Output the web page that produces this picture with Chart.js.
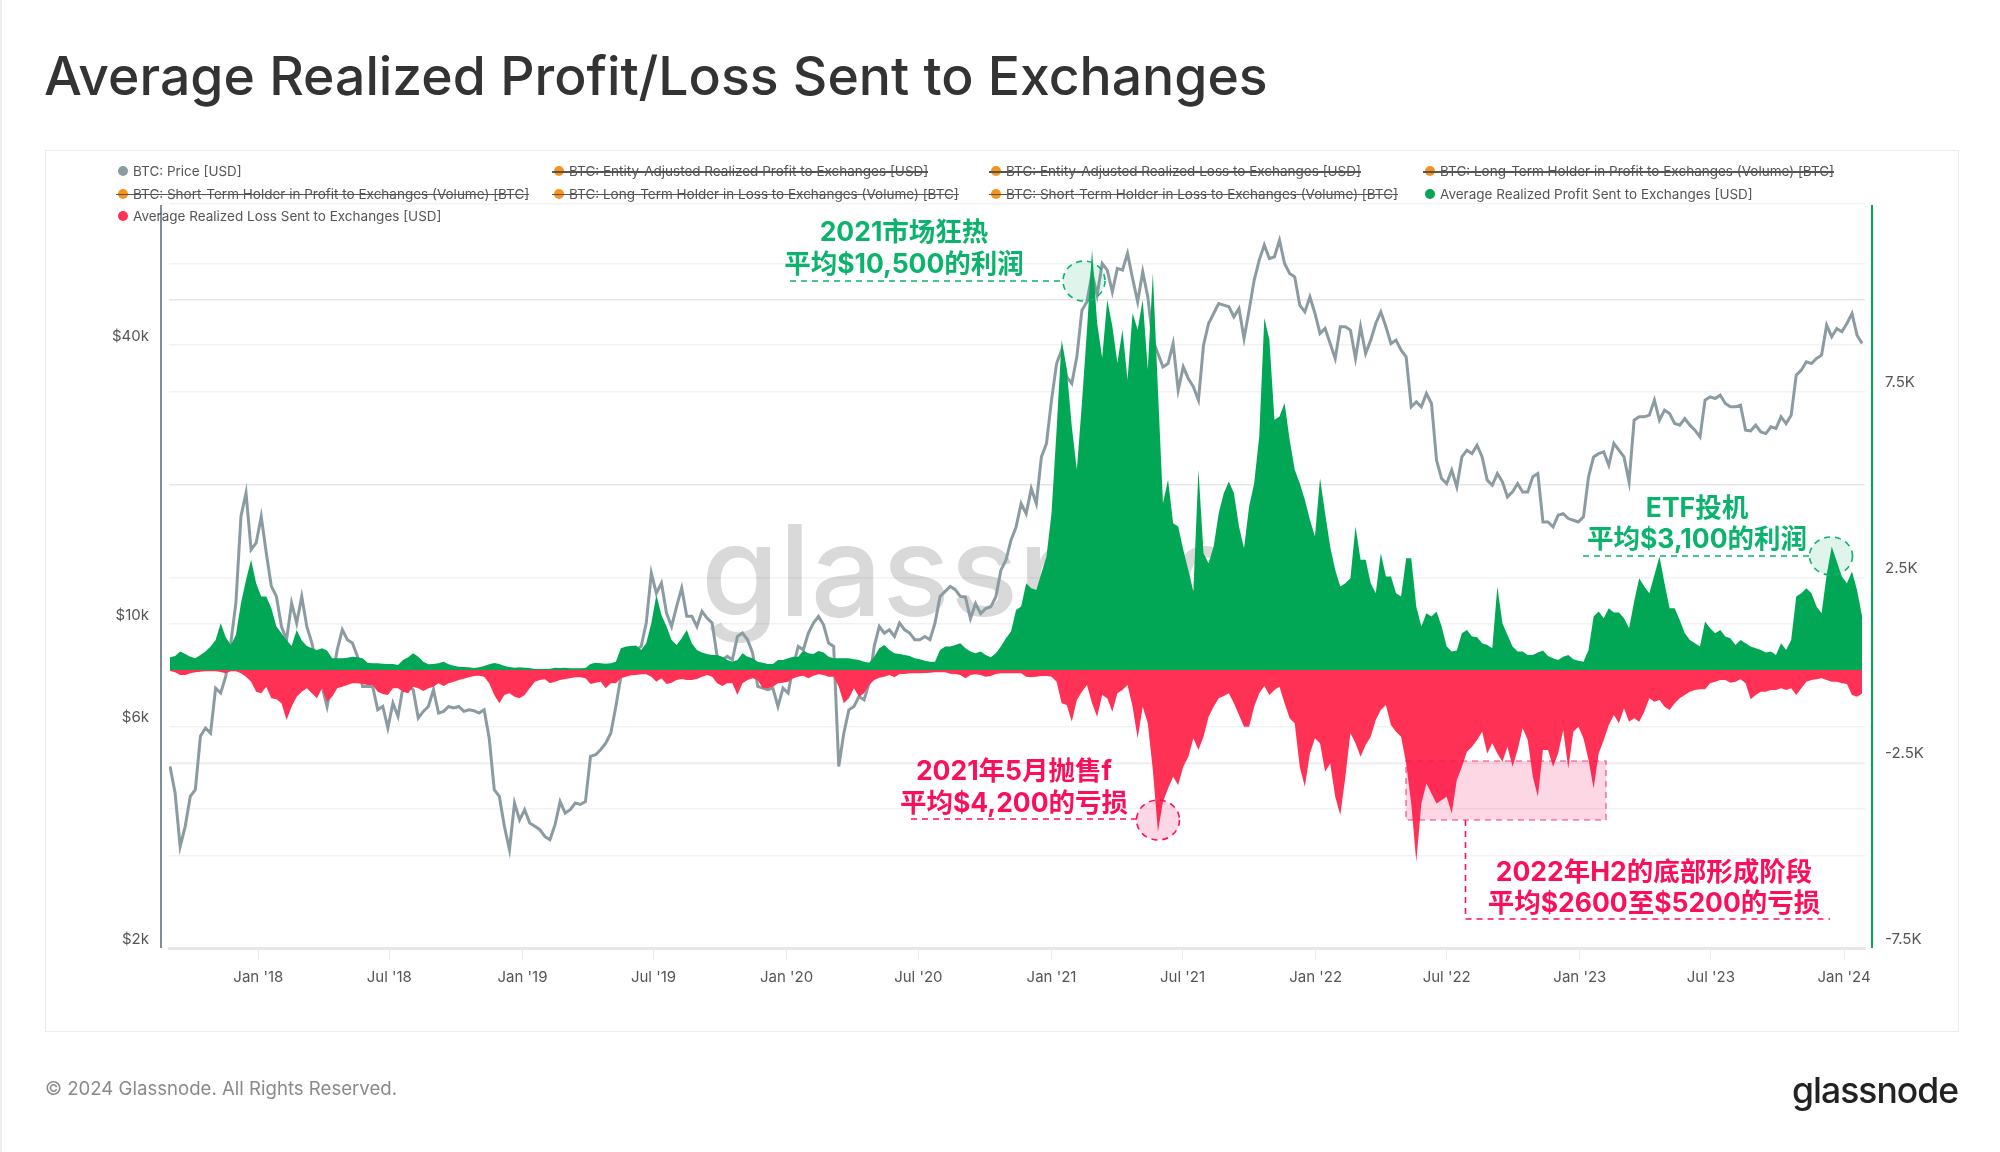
<!DOCTYPE html>
<html>
<head>
<meta charset="utf-8">
<title>Average Realized Profit/Loss Sent to Exchanges</title>
<script src="https://cdn.jsdelivr.net/npm/chart.js@4"></script>
<style>
  html, body { margin: 0; padding: 0; background: #fff; }
  body { width: 2000px; height: 1152px; position: relative; overflow: hidden; font-family: Inter, "Noto Sans CJK SC", sans-serif; }
  .edge { position: absolute; left: 0; top: 0; width: 2px; height: 1152px; background: #efefef; }
  .card { position: absolute; left: 45px; top: 150px; width: 1912px; height: 880px; border: 1.5px solid #ececec; }
  h1 { position: absolute; left: 44px; top: 43px; margin: 0; font-size: 53.5px; line-height: 66px; font-weight: 500; color: #333; white-space: nowrap; }
  #watermark { position: absolute; left: 701px; top: 495px; font-size: 126px; line-height: 150px; font-weight: 500; color: #d9d9d9; white-space: nowrap; }
  #chart { position: absolute; left: 0; top: 0; }
  #marks { position: absolute; left: 0; top: 0; pointer-events: none; }
  .legend-item { position: absolute; height: 22px; line-height: 22px; font-size: 13.5px; color: #555; white-space: nowrap; }
  .legend-item i { position: absolute; left: 0; top: 6px; width: 10px; height: 10px; border-radius: 50%; }
  .legend-item span { margin-left: 15px; }
  .legend-item.off::after { content: ""; position: absolute; left: -2px; right: 0; top: 11px; height: 1.5px; background: #555; }
  .note { position: absolute; transform: translateX(-50%); font-size: 26.5px; line-height: 32px; font-weight: 700; white-space: nowrap; text-align: center; }
  .note.up { color: #0bb36d; }
  .note.down { color: #fb0f5a; }
  #copyright { position: absolute; left: 45px; top: 1076px; font-size: 18.6px; line-height: 24px; color: #8a8a8a; white-space: nowrap; }
  #logo { position: absolute; right: 42px; top: 1069px; font-size: 35.5px; line-height: 44px; font-weight: 500; color: #222; letter-spacing: -1px; white-space: nowrap; }
</style>
</head>
<body>
<div class="edge"></div>
<div class="card"></div>
<h1>Average Realized Profit/Loss Sent to Exchanges</h1>
<div id="watermark">glassnode</div>
<canvas id="chart" width="2000" height="1152"></canvas>
<svg id="marks" width="2000" height="1152">
  <g fill="rgba(11,179,109,0.13)" stroke="#0bb36d" stroke-width="1.6" stroke-dasharray="6 5">
    <path d="M790 281H1063" fill="none"/>
    <ellipse cx="1084" cy="281" rx="21" ry="20"/>
    <path d="M1583 556H1809" fill="none"/>
    <ellipse cx="1831" cy="556" rx="21.5" ry="19"/>
  </g>
  <g fill="rgba(245,19,94,0.17)" stroke="#fb0f5a" stroke-width="1.6" stroke-dasharray="6 5">
    <path d="M911 819H1137" fill="none"/>
    <ellipse cx="1158" cy="820" rx="21.5" ry="20"/>
    <rect x="1406" y="761" width="200" height="59" stroke-opacity="0.55"/>
    <path d="M1465.5 820V919H1830" fill="none"/>
  </g>
</svg>
<div id="legend"></div>
<div class="note up" style="left:904px;top:215px">2021市场狂热</div>
<div class="note up" style="left:904px;top:247px">平均$10,500的利润</div>
<div class="note up" style="left:1697px;top:491px">ETF投机</div>
<div class="note up" style="left:1697px;top:522px">平均$3,100的利润</div>
<div class="note down" style="left:1014px;top:754px">2021年5月抛售f</div>
<div class="note down" style="left:1014px;top:786px">平均$4,200的亏损</div>
<div class="note down" style="left:1654px;top:855px">2022年H2的底部形成阶段</div>
<div class="note down" style="left:1654px;top:886px">平均$2600至$5200的亏损</div>
<div id="copyright">© 2024 Glassnode. All Rights Reserved.</div>
<div id="logo">glassnode</div>

<script>
// weekly samples, first one on 1 Sep 2017
const firstSample = Date.UTC(2017, 8, 1);
const sampleStepDays = 7;

const btcPrice = [
  4930,4320,3310,3660,4250,4390,5725,5965,5815,7275,
  7100,7710,9100,11100,17070,19180,14470,14960,17070,14230,
  12060,11470,9880,9250,11100,10050,11470,9880,9100,8100,
  7335,6640,7580,8800,9720,9250,9100,8515,7335,7335,
  7335,6530,6640,5965,6750,6320,7335,7335,7215,6270,
  6480,6640,7215,6425,6480,6640,6590,6640,6480,6530,
  6500,6425,6530,5675,4390,4250,3660,3260,4110,3780,
  3975,3720,3660,3600,3480,3425,3690,4140,3910,3975,
  4110,4080,4140,5180,5225,5355,5535,5815,6640,7710,
  8100,8515,8800,8950,10050,12880,11660,12260,10560,9880,
  10920,11960,10390,10390,9880,10650,10300,10050,8515,8375,
  8515,8375,9400,9560,9250,8660,7335,7275,7215,7275,
  6640,7275,7100,8100,8950,8800,9560,10050,10390,9965,
  9100,8950,4930,5815,6530,6640,6980,6860,7460,8950,
  9880,9560,9720,9400,10050,9720,9560,9250,9250,9400,
  9250,10050,11470,11760,12060,11860,11470,11440,10280,11070,
  10540,10800,10890,11440,13070,13730,15170,16200,18200,17310,
  19600,18200,22940,24520,30420,36480,39000,34140,33040,37720,
  47560,49580,57080,51240,59980,58040,52100,58520,58040,63040,
  55680,49580,57540,50820,40980,38360,35880,36480,40300,31960,
  35880,33880,32500,30420,39980,44520,46780,49160,48760,48360,
  46020,47960,41320,47560,55220,61000,65720,61480,62000,67360,
  59980,57080,56140,48760,47160,50820,46780,42360,43420,40300,
  37400,43800,43800,43080,37400,43800,38360,40980,44520,47160,
  43800,40300,40980,39000,37720,29420,30160,29420,31440,29920,
  22560,20600,20100,21480,19770,22940,23720,23320,24320,22940,
  20440,19930,21120,20270,18810,19280,20100,19280,19280,20780,
  21120,16610,16610,16200,17170,17310,16890,16750,16610,17030,
  20780,22940,23320,23520,22020,24520,23720,22940,20270,27540,
  28000,28000,28230,30420,27540,28940,28460,27080,26860,27760,
  26860,26200,25340,30420,30920,30660,31180,29920,29420,29420,
  29660,26200,26120,26860,25980,25760,26640,26420,28000,27080,
  28230,34440,35300,36800,36500,37420,38040,44140,41680,43420,
  42720,44520,46780,42000,40300
];

const avgProfit = [
  342,378,495,432,360,315,405,495,630,810,
  1260,882,675,945,1800,2430,2970,2340,1980,1980,
  1665,1170,990,810,648,1080,792,648,585,540,
  585,522,315,315,315,333,360,342,315,198,
  180,180,171,162,162,135,270,342,450,360,
  225,153,162,180,225,153,117,90,81,72,
  54,72,108,153,189,162,108,81,63,72,
  63,54,27,27,27,36,63,54,63,45,
  45,45,54,162,198,180,171,180,225,585,
  630,648,657,540,720,1260,2025,1485,1170,810,
  675,855,1080,720,540,468,432,405,405,360,
  270,225,270,450,360,315,225,198,162,162,
  270,270,315,360,360,522,450,432,513,468,
  360,315,315,315,315,288,270,225,198,360,
  585,675,540,450,432,405,378,315,288,252,
  225,225,540,630,630,675,720,585,495,450,
  495,405,342,450,630,855,1035,1620,1710,2340,
  2205,2160,2610,3060,4230,6480,8910,8100,6570,5400,
  7200,9180,11340,9360,8415,9990,9270,8280,9180,7830,
  9630,9180,9990,8100,10710,7560,4500,5130,3960,3870,
  3240,2700,2115,5400,3150,2880,3330,4230,4770,5085,
  4770,3870,3285,4410,5040,6300,9495,8910,6750,6840,
  7200,6210,5400,5040,4590,4050,3600,5175,4230,3330,
  2700,2250,2340,2475,3870,2970,2970,2340,2070,3150,
  2520,2520,2070,1980,3015,3015,1710,1170,1530,1440,
  1575,1170,630,495,522,990,1080,900,882,720,
  675,585,2250,1260,945,630,495,495,405,405,
  468,522,378,315,270,360,405,288,252,225,
  540,1440,1575,1395,1665,1548,1548,1395,1125,1845,
  2475,2250,2070,2565,3060,2340,1665,1665,1350,990,
  810,720,630,1305,1125,990,1080,900,855,675,
  810,720,630,585,540,468,495,405,720,540,
  810,1980,2070,2205,2070,1710,1530,2565,3330,2925,
  2520,2340,2655,2160,1440
];

const avgLoss = [
  27,63,135,135,90,63,45,36,36,36,
  54,90,36,36,90,180,315,585,630,450,
  765,792,900,1350,990,720,585,495,630,765,
  495,855,720,495,450,405,360,360,378,405,
  405,585,648,675,495,495,585,630,450,495,
  567,495,450,360,432,360,315,270,234,198,
  162,153,180,360,675,900,675,630,720,765,
  675,495,315,270,252,360,315,270,243,225,
  198,198,225,378,342,315,495,360,360,225,
  180,144,135,117,117,180,315,225,378,342,
  270,243,270,270,243,180,135,180,360,432,
  360,360,675,360,270,225,270,495,495,450,
  360,342,315,225,180,153,225,153,117,135,
  180,180,450,900,765,495,720,630,405,270,
  207,180,135,198,108,108,90,90,90,81,
  72,63,63,63,100,110,135,225,135,117,
  135,180,162,108,90,90,90,90,90,180,
  198,180,162,162,180,315,900,945,1395,810,
  585,405,900,1260,675,765,1125,630,540,405,
  990,1845,990,1440,2700,4365,3555,3195,2880,3105,
  2610,2340,1845,2160,1800,1260,990,765,702,630,
  900,1215,1530,1530,990,630,432,675,540,450,
  900,1305,1440,2610,3150,2250,1845,1980,2745,2520,
  3420,3915,2880,1700,1980,2340,2025,1800,1350,1080,
  945,1485,1665,1800,2520,3600,5175,3600,3060,3330,
  3600,3510,3420,3870,2970,2610,2205,2070,1890,1665,
  2250,1980,2250,2475,2070,2610,2160,1575,1890,2880,
  3420,2160,2160,2610,2250,1620,2655,1665,1530,1845,
  2430,3195,2250,1890,1485,1215,1440,1035,1395,1305,
  1395,1125,765,855,810,990,1080,900,765,675,
  585,540,522,522,360,315,270,270,342,315,
  252,360,792,675,585,585,540,540,495,540,
  495,675,495,315,270,252,225,270,315,315,
  360,378,675,720,630
];

const xTickDates = ["2018-01-01","2018-07-01","2019-01-01","2019-07-01","2020-01-01","2020-07-01","2021-01-01","2021-07-01","2022-01-01","2022-07-01","2023-01-01","2023-07-01","2024-01-01"];
const xTickLabels = ["Jan '18","Jul '18","Jan '19","Jul '19","Jan '20","Jul '20","Jan '21","Jul '21","Jan '22","Jul '22","Jan '23","Jul '23","Jan '24"];
const priceTicks = [2000,4000,5000,6000,10000,20000,40000,50000,60000];
const priceTickLabels = { 2000: "$2k", 6000: "$6k", 10000: "$10k", 40000: "$40k" };
const usdTicks = [-7500,-5000,-2500,2500,5000,7500,10000,12570];
const usdTickLabels = { "-7500": "-7.5K", "-2500": "-2.5K", 2500: "2.5K", 7500: "7.5K" };

const legendNames = [
  "BTC: Price [USD]",
  "BTC: Entity-Adjusted Realized Profit to Exchanges [USD]",
  "BTC: Entity-Adjusted Realized Loss to Exchanges [USD]",
  "BTC: Long-Term Holder in Profit to Exchanges (Volume) [BTC]",
  "BTC: Short-Term Holder in Profit to Exchanges (Volume) [BTC]",
  "BTC: Long-Term Holder in Loss to Exchanges (Volume) [BTC]",
  "BTC: Short-Term Holder in Loss to Exchanges (Volume) [BTC]",
  "Average Realized Profit Sent to Exchanges [USD]",
  "Average Realized Loss Sent to Exchanges [USD]"
];
const legendColors = ["#8b9ba2","#f7931a","#f7931a","#f7931a","#f7931a","#f7931a","#f7931a","#02a755","#ff3155"];
const legendOff = [false,true,true,true,true,true,true,false,false];
const legendLefts = [118,554,991,1425];

// legend sits in four columns, hidden series are struck through
var legend = document.getElementById("legend");
legendNames.forEach(function (name, i) {
  var item = document.createElement("div");
  item.className = "legend-item" + (legendOff[i] ? " off" : "");
  item.style.left = legendLefts[i % 4] + "px";
  item.style.top = 160 + Math.floor(i / 4) * 22.5 + "px";
  item.innerHTML = '<i style="background:' + legendColors[i] + '"></i><span></span>';
  item.querySelector("span").textContent = name;
  legend.appendChild(item);
});

function toPoints(values) {
  return values.map(function (v, i) {
    return { x: firstSample + i * sampleStepDays * 86400000, y: v };
  });
}

const lossNegative = avgLoss.map(function (v) { return -v; });
const xTickTimes = xTickDates.map(function (d) { return Date.parse(d + "T00:00:00Z"); });

// the two value axes stand a little away from the plot
const axisLines = {
  id: "axisLines",
  afterDraw: function (chart) {
    var a = chart.chartArea, ctx = chart.ctx;
    ctx.save();
    ctx.lineWidth = 2;
    ctx.strokeStyle = "#7d8e95";
    ctx.beginPath();
    ctx.moveTo(161, a.top + 1);
    ctx.lineTo(161, a.bottom);
    ctx.stroke();
    ctx.strokeStyle = "#02a755";
    ctx.beginPath();
    ctx.moveTo(1872, a.top + 1);
    ctx.lineTo(1872, a.bottom);
    ctx.stroke();
    ctx.restore();
  },
};

Chart.defaults.font.family = 'Inter, "Noto Sans CJK SC", sans-serif';
Chart.defaults.font.size = 15;
Chart.defaults.color = "#555";

new Chart(document.getElementById("chart"), {
  type: "line",
  data: {
    datasets: [
      {
        label: "Average Realized Profit Sent to Exchanges [USD]",
        data: toPoints(avgProfit),
        yAxisID: "usd",
        backgroundColor: "#02a755",
        borderWidth: 0,
        fill: "origin",
        pointRadius: 0,
        order: 1,
      },
      {
        label: "Average Realized Loss Sent to Exchanges [USD]",
        data: toPoints(lossNegative),
        yAxisID: "usd",
        backgroundColor: "#ff3155",
        borderWidth: 0,
        fill: "origin",
        pointRadius: 0,
        order: 2,
      },
      {
        label: "BTC: Price [USD]",
        data: toPoints(btcPrice),
        yAxisID: "price",
        borderColor: "#8b9ba2",
        borderWidth: 3,
        fill: false,
        pointRadius: 0,
        order: 3,
      },
    ],
  },
  options: {
    responsive: false,
    animation: false,
    devicePixelRatio: 1,
    layout: { padding: { top: 204 } },
    plugins: { legend: { display: false }, tooltip: { enabled: false } },
    scales: {
      x: {
        type: "linear",
        min: Date.UTC(2017, 7, 30, 14),
        max: Date.UTC(2024, 0, 30),
        grid: { display: true, drawOnChartArea: false, color: "#ececec", tickLength: 12 },
        border: { color: "#e8e8e8", width: 3 },
        afterBuildTicks: function (axis) {
          axis.ticks = xTickTimes.map(function (t) { return { value: t }; });
        },
        afterFit: function (axis) { axis.height = 204; },
        ticks: {
          autoSkip: false,
          maxRotation: 0,
          padding: 8,
          callback: function (value) { return xTickLabels[xTickTimes.indexOf(value)]; },
        },
      },
      price: {
        type: "logarithmic",
        position: "left",
        min: 2000,
        max: 80600,
        grid: { color: "rgba(0,0,0,0.05)", lineWidth: 1.5, drawTicks: false },
        border: { display: false },
        afterBuildTicks: function (axis) {
          axis.ticks = priceTicks.map(function (t) { return { value: t }; });
        },
        afterFit: function (axis) { axis.width = 169; },
        ticks: {
          autoSkip: false,
          padding: 20,
          labelOffset: -9,
          callback: function (value) { return priceTickLabels[value] || ""; },
        },
      },
      usd: {
        type: "linear",
        position: "right",
        min: -7500,
        max: 12570,
        grid: { color: "rgba(0,0,0,0.05)", lineWidth: 1.5, drawTicks: false },
        border: { display: false },
        afterBuildTicks: function (axis) {
          axis.ticks = usdTicks.map(function (t) { return { value: t }; });
        },
        afterFit: function (axis) { axis.width = 135; },
        ticks: {
          autoSkip: false,
          padding: 20,
          labelOffset: -9,
          callback: function (value) { return usdTickLabels[value] || ""; },
        },
      },
    },
  },
  plugins: [axisLines],
});
</script>
</body>
</html>
